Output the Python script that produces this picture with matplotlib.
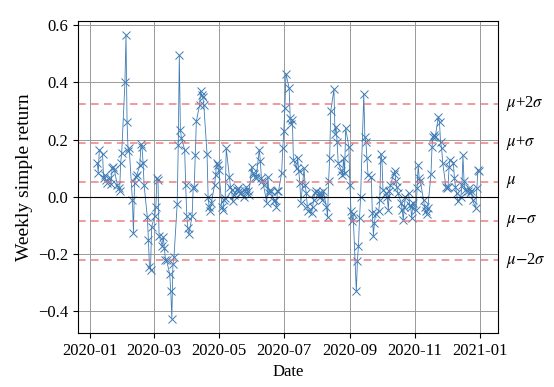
import numpy as np
import pandas as pd
import matplotlib
matplotlib.use("Agg")
import matplotlib.pyplot as plt
import matplotlib.dates as mdates

plt.rcParams['font.family'] = ['Liberation Serif', 'DejaVu Serif']
plt.rcParams['mathtext.fontset'] = 'stix'

# weekly simple returns, one value per business day, grouped by month
jan = [0.12, 0.085, 0.165, 0.15, 0.065, 0.075, 0.06, 0.05, 0.065, 0.045,
       0.10, 0.105, 0.095, 0.04, 0.03, 0.02, 0.12, 0.155]
feb = [0.40, 0.565, 0.26, 0.16, 0.17, -0.01, -0.125, 0.05, 0.07, 0.075,
       0.11, 0.185, 0.175, 0.12, 0.04, -0.07, -0.15, -0.245, -0.255, -0.105]
mar = [-0.065, -0.035, 0.065, 0.06, -0.135, -0.17, -0.14, -0.18, -0.22, -0.22,
       -0.27, -0.33, -0.425, -0.235, -0.21, -0.025, 0.18, 0.495, 0.235, 0.205,
       0.165, 0.04]
apr = [-0.065, -0.11, -0.13, -0.065, 0.03, 0.035, 0.145, 0.265, 0.32, 0.37,
       0.355, 0.35, 0.32, 0.15, 0.0, -0.035, -0.05, -0.02, 0.04, 0.075,
       0.12, 0.11]
may = [0.095, -0.035, -0.045, -0.01, -0.005, 0.17, 0.07, 0.035, 0.025, -0.015,
       0.005, 0.025, 0.03, 0.02, 0.015, 0.012, 0.0, 0.02, 0.035, 0.02, 0.005]
jun = [0.105, 0.085, 0.08, 0.07, 0.065, 0.165, 0.125, 0.065, 0.055, 0.04,
       -0.02, 0.07, 0.015, 0.025, 0.02, -0.015, -0.01, -0.035, 0.02, 0.02,
       0.085, 0.17]
jul = [0.23, 0.31, 0.43, 0.38, 0.275, 0.255, 0.27, 0.13, 0.10, 0.135,
       0.09, 0.05, -0.02, 0.10, 0.04, 0.015, -0.03, -0.05, -0.057, -0.035,
       -0.01, 0.015, 0.02]
aug = [0.015, 0.0, 0.015, -0.01, 0.02, -0.035, -0.07, 0.055, 0.135, 0.30,
       0.375, 0.22, 0.245, 0.19, 0.12, 0.09, 0.075, 0.135, 0.085, 0.24, 0.175]
sep = [0.04, -0.05, -0.085, -0.06, -0.33, -0.225, -0.17, -0.075, 0.0, 0.36,
       0.21, 0.19, 0.135, 0.075, 0.07, -0.055, -0.135, -0.09, -0.06, -0.05,
       -0.01, 0.15]
oct_ = [0.13, 0.025, 0.013, 0.0, -0.045, 0.02, 0.04, 0.08, 0.09, 0.055,
        0.035, 0.013, -0.02, -0.045, -0.08, -0.035, 0.0, 0.013, -0.028, -0.035,
        -0.075, -0.02]
nov = [-0.045, 0.03, 0.11, 0.065, 0.055, -0.01, -0.035, -0.05, -0.06, -0.04,
       0.08, 0.175, 0.21, 0.215, 0.21, 0.28, 0.26, 0.19, 0.17, 0.12, 0.035]
dec = [0.03, 0.035, 0.105, 0.13, 0.12, 0.065, 0.035, 0.013, -0.016, 0.0,
       0.04, 0.145, 0.055, 0.025, 0.02, 0.03, 0.015, 0.02, -0.01, -0.04,
       0.03, 0.094, 0.09]

months = [jan, feb, mar, apr, may, jun, jul, aug, sep, oct_, nov, dec]
month_starts = ['2020-01-08'] + [f'2020-{m:02d}-01' for m in range(2, 13)]

dates = []
values = []
for start, vals in zip(month_starts, months):
    d = pd.bdate_range(start, periods=len(vals))
    dates.extend(d)
    values.extend(vals)
returns = pd.Series(values, index=pd.DatetimeIndex(dates))

mu = 0.052
sigma = 0.137
bands = [2, 1, 0, -1, -2]
band_labels = [r'$\mu$+2$\sigma$', r'$\mu$+$\sigma$', r'$\mu$',
               r'$\mu$$-$$\sigma$', r'$\mu$$-$2$\sigma$']

fig, ax = plt.subplots(figsize=(5.54, 3.87), dpi=100)
fig.subplots_adjust(left=0.141, right=0.899, bottom=0.14, top=0.946)

ax.plot(returns.index, returns.values, color='#3f7cb5', lw=0.6,
        marker='x', ms=6, mew=0.7)
ax.axhline(0, color='black', lw=0.8)
for k, lab in zip(bands, band_labels):
    y = mu + k * sigma
    ax.axhline(y, color='#e57373', lw=1.1, ls=(0, (5, 3.5)), alpha=0.9)
    ax.text(1.018, y, lab, transform=ax.get_yaxis_transform(),
            va='center', ha='left', fontsize=12)

ax.grid(True, color='#999999', lw=0.7)
ax.set_axisbelow(True)
ax.xaxis.set_major_locator(mdates.MonthLocator(interval=2))
ax.xaxis.set_major_formatter(mdates.DateFormatter('%Y-%m'))
ax.set_yticks([-0.4, -0.2, 0.0, 0.2, 0.4, 0.6])
ax.tick_params(labelsize=12)
ax.set_xlabel('Date', fontsize=12)
ax.set_ylabel('Weekly simple return', fontsize=14)

plt.savefig('out.png', dpi=100)
